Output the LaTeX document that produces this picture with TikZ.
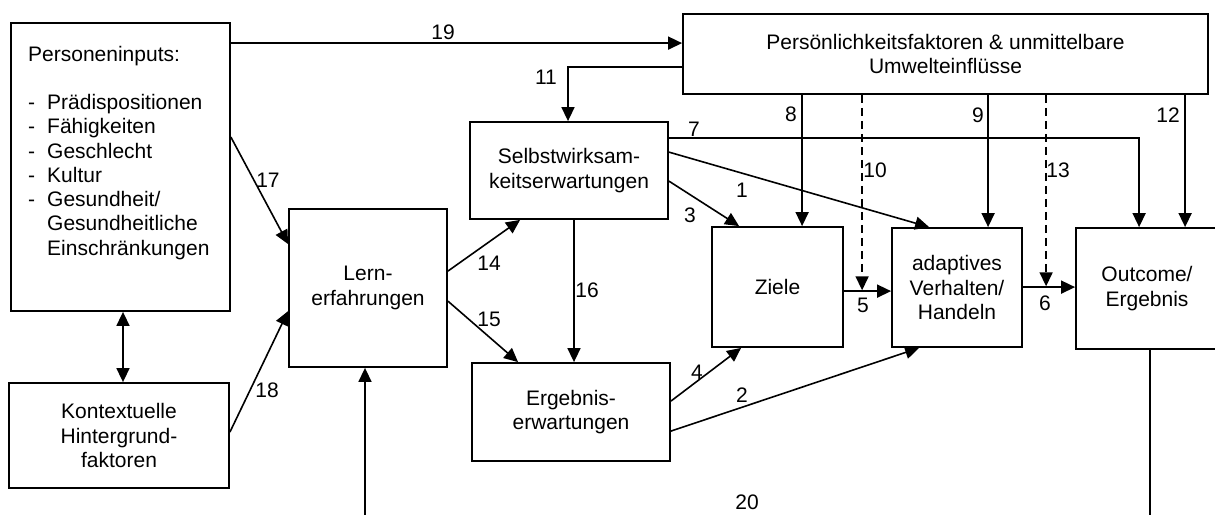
\documentclass[tikz,border=0pt]{standalone}
\usepackage{fontspec}
\setmainfont{Liberation Sans}
\usetikzlibrary{arrows.meta,calc}
\begin{document}
\begin{tikzpicture}[x=1pt,y=-1pt,
  box/.style={draw, line width=1.8pt, inner sep=0pt, align=center, font=\fontsize{21}{24.5}\selectfont},
  arr/.style={line width=1.6pt, -{Triangle[length=14pt,width=13pt]}},
  darr/.style={arr, dash pattern=on 8pt off 5pt},
  dbl/.style={line width=1.6pt, {Triangle[length=14pt,width=13pt]}-{Triangle[length=14pt,width=13pt]}},
  lab/.style={inner sep=0pt, font=\fontsize{21}{24}\selectfont}]
\useasboundingbox (0,0) rectangle (1215,514);
\clip (0,0) rectangle (1215,514);

% boxes
\node[box, minimum width=219pt, minimum height=288pt] (pin) at (120.5,167) {};
\node[inner sep=0pt, anchor=north west, font=\fontsize{21}{24.25}\selectfont] (pintext) at (28,44)
  {\begin{tabular}{@{}l@{\hspace{12pt}}l@{}}
   \multicolumn{2}{@{}l@{}}{Personeninputs:}\\
   \\
   -& Prädispositionen\\
   -& Fähigkeiten\\
   -& Geschlecht\\
   -& Kultur\\
   -& Gesundheit/\\
    & Gesundheitliche\\
    & Einschränkungen
   \end{tabular}};
\node[box, minimum width=220pt, minimum height=105pt] (kon) at (119,435.5) {Kontextuelle\\Hintergrund-\\faktoren};
\node[box, minimum width=158pt, minimum height=158pt] (lern) at (368,288) {Lern-\\erfahrungen};
\node[box, minimum width=525pt, minimum height=80pt] (pers) at (945.5,54) {Persönlichkeitsfaktoren \& unmittelbare\\Umwelteinflüsse};
\node[box, minimum width=198pt, minimum height=97pt] (selb) at (569,170.5) {Selbstwirksam-\\keitserwartungen};
\node[box, minimum width=198pt, minimum height=98pt] (erg) at (571,412) {Ergebnis-\\erwartungen};
\node[box, minimum width=131pt, minimum height=120pt] (ziele) at (777.5,287) {Ziele};
\node[box, minimum width=130pt, minimum height=119pt] (adap) at (957,287.5) {adaptives\\Verhalten/\\Handeln};
\node[box, minimum width=142pt, minimum height=121pt] (out) at (1147,288.5) {Outcome/\\Ergebnis};

% connectors
\draw[arr] ($(pin.north east)+(0,21)$) coordinate (a19) -- (a19 -| pers.west);
\draw[arr] ($(pin.north east)+(0,115)$) -- ($(lern.north west)+(0,36)$);
\draw[arr] ($(kon.north east)+(0,50)$) -- ($(lern.north west)+(0,103)$);
\draw[dbl] ($(pin.south)+(2.5,0)$) coordinate (ad) -- (ad |- kon.north);
\draw[arr] ($(pers.north west)+(0,54)$) -| ($(selb.north)+(-1,0)$);
\draw[arr] ($(lern.north east)+(0,63)$) -- ($(selb.south west)+(51,0)$);
\draw[arr] ($(lern.north east)+(0,93)$) -- ($(erg.north west)+(47,0)$);
\draw[arr] ($(selb.south)+(5,0)$) coordinate (a16) -- (a16 |- erg.north);
\draw[arr] ($(erg.north east)+(0,39)$) -- ($(ziele.south west)+(30,0)$);
\draw[arr] ($(erg.north east)+(0,69)$) -- ($(adap.south west)+(28,0)$);
\draw[arr] ($(selb.north east)+(0,60)$) -- ($(ziele.north west)+(28,0)$);
\draw[arr] ($(selb.north east)+(0,31)$) -- ($(adap.north west)+(38,0)$);
\draw[arr] ($(selb.north east)+(0,17)$) -| ($(out.north west)+(64,0)$);
\draw[arr] ($(pers.south west)+(120,0)$) coordinate (a8) -- (a8 |- ziele.north);
\draw[arr] ($(pers.south west)+(306,0)$) coordinate (a9) -- (a9 |- adap.north);
\draw[arr] ($(pers.south west)+(503,0)$) coordinate (a12) -- (a12 |- out.north);
\draw[arr] ($(ziele.north east)+(0,65)$) coordinate (a5) -- (a5 -| adap.west);
\draw[arr] ($(adap.north east)+(0,60)$) coordinate (a6) -- (a6 -| out.west);
\draw[darr] ($(pers.south west)+(180,0)$) coordinate (a10) -- ($(a10 |- a5)+(0,-0.8)$);
\draw[darr] ($(pers.south west)+(364,0)$) coordinate (a13) -- ($(a13 |- a6)+(0,-0.8)$);
\draw[arr] ($(out.south)+(3,0)$) -- ++(0,200) -| ($(lern.south)+(-3,0)$);

% labels
\node[lab] (l19) at (443,32) {19};
\node[lab] (l17) at (268,180) {17};
\node[lab] (l18) at (267,390) {18};
\node[lab] (l11) at (546,77) {11};
\node[lab] (l14) at (489,263) {14};
\node[lab] (l15) at (489,319) {15};
\node[lab] (l16) at (587,290) {16};
\node[lab] (l4) at (697,372) {4};
\node[lab] (l2) at (742,395) {2};
\node[lab] (l3) at (690,215) {3};
\node[lab] (l1) at (742,190) {1};
\node[lab] (l7) at (694,129) {7};
\node[lab] (l8) at (791,114) {8};
\node[lab] (l9) at (978,115) {9};
\node[lab] (l12) at (1168,115) {12};
\node[lab] (l10) at (875,170) {10};
\node[lab] (l13) at (1058,170) {13};
\node[lab] (l5) at (863,305) {5};
\node[lab] (l6) at (1045,303) {6};
\node[lab] (l20) at (747,502) {20};
\end{tikzpicture}
\end{document}
